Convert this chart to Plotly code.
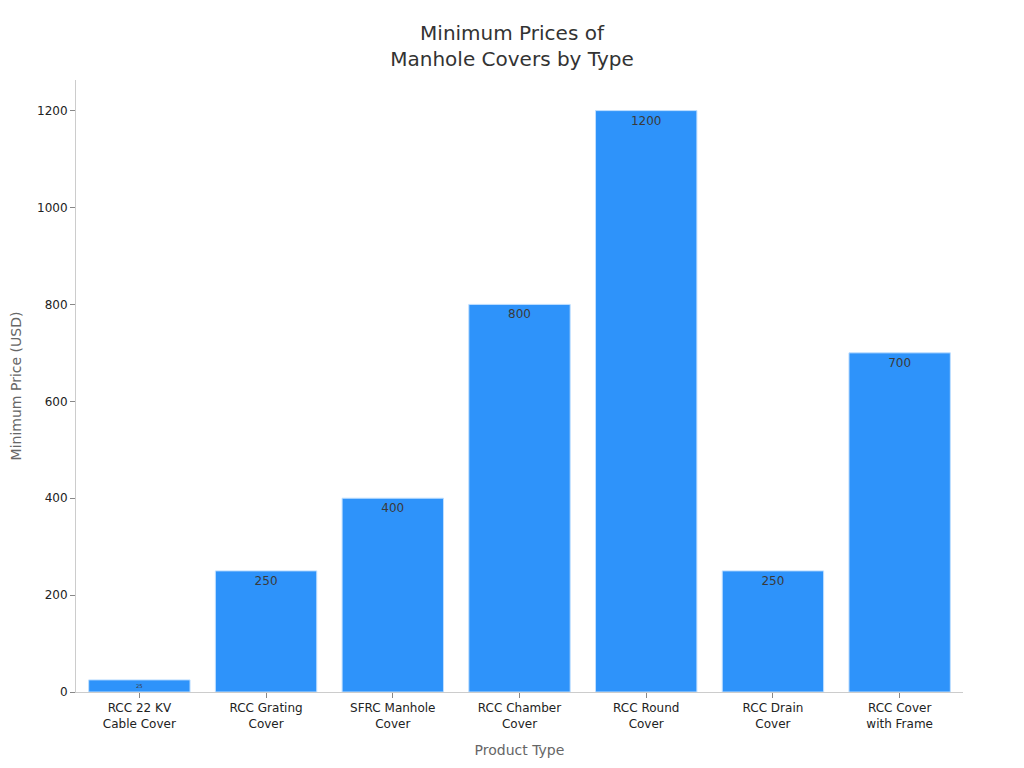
import plotly.graph_objects as go

categories = ["RCC 22 KV<br>Cable Cover", "RCC Grating<br>Cover", "SFRC Manhole<br>Cover",
              "RCC Chamber<br>Cover", "RCC Round<br>Cover", "RCC Drain<br>Cover", "RCC Cover<br>with Frame"]
prices = [25, 250, 400, 800, 1200, 250, 700]

fig = go.Figure(go.Bar(
    x=categories, y=prices, text=prices, textposition="inside", insidetextanchor="end",
    marker=dict(color="#2E93FA", line=dict(color="#BFDFFF", width=1)),
    textfont=dict(color="#3a3a3a", size=12),
))
fig.update_layout(
    width=1024, height=768,
    template="plotly_white",
    font=dict(family="DejaVu Sans", color="#333333"),
    title=dict(text="Minimum Prices of<br>Manhole Covers by Type", x=0.4922, xanchor="center",
               y=0.958, font=dict(size=20, color="#333333")),
    margin=dict(l=68, r=69, t=72, b=84),
    bargap=0.2,
    plot_bgcolor="white", paper_bgcolor="white",
    showlegend=False,
)
fig.update_xaxes(title=dict(text="Product Type", font=dict(size=14, color="#666666")),
                 showgrid=False, showline=True, linecolor="#CCCCCC", ticks="outside",
                 ticklen=5, tickcolor="#888888", tickfont=dict(size=12, color="#222222"))
fig.update_yaxes(title=dict(text="Minimum Price (USD)", font=dict(size=14, color="#666666")),
                 showgrid=False, showline=True, linecolor="#CCCCCC", ticks="outside",
                 ticklen=5, tickcolor="#888888", tickfont=dict(size=12, color="#222222"),
                 zeroline=False, dtick=200, automargin=False)
fig.write_html("out.html")
